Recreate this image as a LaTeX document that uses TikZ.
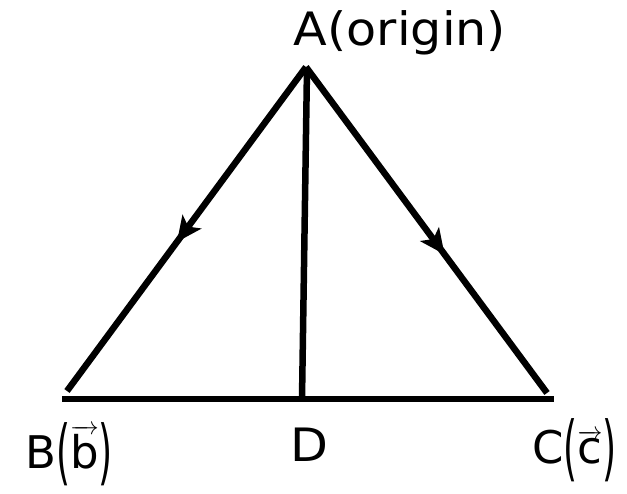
\documentclass[tikz,border=0pt]{standalone}
\usepackage{fontspec}
\setmainfont{DejaVu Sans}
\usetikzlibrary{arrows.meta,decorations.markings}
\newcommand{\tallpar}[1]{\raisebox{-0.19em}{\scalebox{0.8}[1.58]{#1}}}
\newcommand{\vecletter}[1]{\ensuremath{\overrightarrow{\mbox{#1}}}}
\tikzset{
  edge/.style={line width=6.5pt, line cap=butt},
  midarrow/.style={postaction={decorate}, decoration={markings,
    mark=at position #1 with {\arrow{Stealth[length=25pt,width=23pt,inset=6pt]}}}},
  lbl/.style={inner sep=0pt, font=\fontsize{46}{50}\selectfont\addfontfeature{FakeStretch=1.07}},
  ptlbl/.style={inner sep=0pt, font=\fontsize{45}{50}\selectfont}
}
\begin{document}
\begin{tikzpicture}[x=1pt,y=-1pt]
\useasboundingbox (0,0) rectangle (627,494);
\coordinate (A) at (306,67);
\coordinate (B) at (67,391);
\coordinate (C) at (547,393);
\coordinate (BL) at (62,399);
\coordinate (CR) at (554,399);
\coordinate (D) at (302,399);
\coordinate (Atop) at (307,68);
\draw[edge, midarrow=0.54] (A) -- (B);
\draw[edge, midarrow=0.575] (A) -- (C);
\draw[edge] (BL) -- (CR);
\draw[edge] (Atop) -- (D);
\node[lbl] (Alab) at (400,33) {A(origin)};
\node[ptlbl, anchor=base west] (Blab) at (25,468) {B\tallpar{(}\vecletter{b}\tallpar{)}};
\node[lbl] (Dlab) at (309,445) {D};
\node[ptlbl, anchor=base west] (Clab) at (532,464) {C\tallpar{(}\vecletter{c}\tallpar{)}};
\end{tikzpicture}
\end{document}
